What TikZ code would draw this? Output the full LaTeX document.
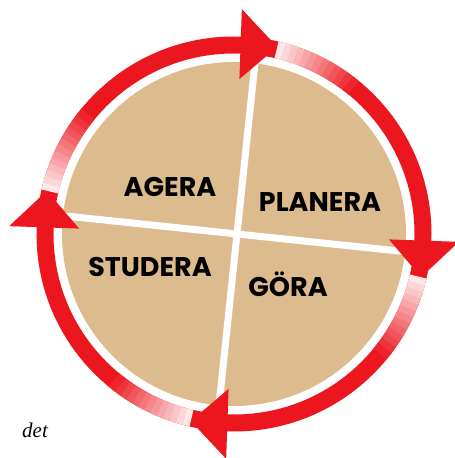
\documentclass[tikz,border=0pt]{standalone}
\usepackage{fontspec}
\setmainfont{Liberation Serif}
\newfontfamily\labelfont{Poppins}
\usetikzlibrary{calc}

\definecolor{cycred}{RGB}{236,22,30}
\definecolor{discfill}{RGB}{220,188,142}

\begin{document}
\begin{tikzpicture}[x=1pt, y=1pt,
  ring/.style={line width=17, draw=cycred},
  crossline/.style={line width=7, draw=white},
  stage/.style={font=\labelfont\bfseries\fontsize{27}{27}\selectfont, text=black, inner sep=0pt}]
\useasboundingbox (0,0) rectangle (455,458);
\coordinate (c) at (234,224);
\coordinate (x) at (237,224);

% disc with the cross
\fill[discfill] (c) circle[radius=172];
\begin{scope}
\clip (c) circle[radius=172];
\draw[crossline] ($(x)+(-6:200)$) -- ($(x)+(174:200)$);
\draw[crossline] ($(x)+(84:200)$) -- ($(x)+(264:200)$);
\end{scope}

% red ring, faded just behind each arrow tip
\draw[ring] (c) circle[radius=189];
\foreach \b in {88,-2,178,268} {
  \pgfmathsetmacro\t{\b-11}
  \foreach \i [evaluate=\i as \p using int(10+7*\i), evaluate=\i as \a using \t-2*\i] in {0,...,12}
    \draw[ring, draw=cycred!\p!white] ($(c)+(\a:189)$) arc[start angle=\a, end angle=\a-2.4, radius=189];
}

% arrow heads
\foreach \b in {88,-2,178,268}
  \fill[cycred] ($(c)+(\b:225)$) -- ($(c)+(\b-11:192)$) -- ($(c)+(\b:155)$) -- cycle;

% stages
\node[stage] (agera) at (170,271) {AGERA};
\node[stage] (planera) at (320,256) {PLANERA};
\node[stage] (studera) at (150,191) {STUDERA};
\node[stage] (gora) at (288,174) {GÖRA};

\node[font=\itshape\fontsize{21}{21}\selectfont, anchor=base west, inner sep=0pt] (det) at (22,20) {det};
\end{tikzpicture}
\end{document}
